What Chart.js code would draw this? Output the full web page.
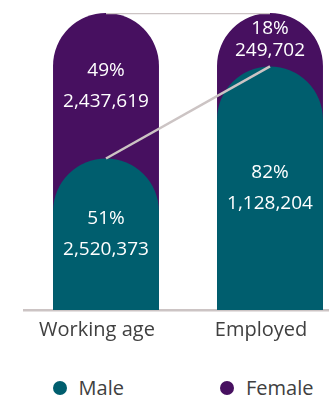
<!DOCTYPE html>
<html lang="en">
<head>
    <meta charset="UTF-8">
    <title>Working age vs employed</title>

    <script src="https://cdn.jsdelivr.net/npm/chart.js@4.4.0/dist/chart.umd.min.js"></script>

    <style>
        body {
            margin: 0;
            overflow: hidden;
            background: #ffffff;
            font-family: "Open Sans", sans-serif;
        }

        #wrap {
            position: relative;
            width: 366px;
            height: 356px;
        }

        #legend {
            position: absolute;
            top: 376px;
            left: 0;
            width: 366px;
            display: flex;
            justify-content: center;
            gap: 96px;
            font-size: 20px;
            line-height: 24px;
            color: #404040;
        }

        #legend span.item {
            display: flex;
            align-items: center;
        }

        #legend span.dot {
            display: inline-block;
            width: 14px;
            height: 14px;
            border-radius: 50%;
            margin-right: 12px;
        }
    </style>
</head>
<body>

<div id="wrap">
    <canvas id="myChart"></canvas>
</div>
<div id="legend"></div>


<script>

    var categories = ["Working age", "Employed"];

    var malePct = [51, 82];
    var femalePct = [49, 18];

    var maleCount = [2520373, 1128204];
    var femaleCount = [2437619, 249702];

    var teal = "rgb(0, 94, 110)";
    var purple = "rgb(71, 16, 96)";
    var lineGrey = "rgb(204, 196, 196)";

    // female bar sits behind the male one and runs up to the full total
    var femaleTop = malePct.map(function (m, i) {
        return m + femalePct[i];
    });

    var topRound = {topLeft: 999, topRight: 999, bottomLeft: 0, bottomRight: 0};


    // white percent + count text inside each coloured part
    var segmentLabels = {
        id: "segmentLabels",
        afterDatasetsDraw: function (chart) {
            var ctx = chart.ctx;
            var maleBars = chart.getDatasetMeta(0).data;
            var femaleBars = chart.getDatasetMeta(1).data;

            ctx.save();
            ctx.fillStyle = "#ffffff";
            ctx.font = "19px 'Open Sans'";
            ctx.textAlign = "center";
            ctx.textBaseline = "middle";

            function pair(x, top, bottom, pct, count) {
                var h = bottom - top;
                var mid = (top + bottom) / 2;
                var gap = Math.min(31, h * 0.4);
                ctx.fillText(pct + "%", x, mid - gap / 2);
                ctx.fillText(count.toLocaleString("en-US"), x, mid + gap / 2);
            }

            for (var i = 0; i < categories.length; i++) {
                var m = maleBars[i];
                var f = femaleBars[i];
                pair(m.x, m.y, m.base, malePct[i], maleCount[i]);
                pair(f.x, f.y, m.y, femalePct[i], femaleCount[i]);
            }
            ctx.restore();
        }
    };


    var ctx = document.getElementById("myChart");

    var chart = new Chart(ctx, {

        type: "bar",

        data: {
            labels: categories,
            datasets: [{
                label: "Male",
                data: malePct,
                backgroundColor: teal,
                borderRadius: topRound,
                borderSkipped: "start",
                grouped: false,
                barPercentage: 0.646,
                categoryPercentage: 1
            }, {
                label: "Female",
                data: femaleTop,
                backgroundColor: purple,
                borderRadius: topRound,
                borderSkipped: "start",
                grouped: false,
                barPercentage: 0.646,
                categoryPercentage: 1
            }, {
                type: "line",
                label: "total",
                data: femaleTop,
                borderColor: lineGrey,
                borderWidth: 2.5,
                pointRadius: 0,
                order: -1
            }, {
                type: "line",
                label: "male share",
                data: malePct,
                borderColor: lineGrey,
                borderWidth: 2.5,
                pointRadius: 0,
                order: -1
            }]
        },

        options: {
            responsive: true,
            maintainAspectRatio: false,
            animation: false,
            layout: {
                padding: {top: 13, left: 24, right: 14, bottom: 6}
            },
            plugins: {
                legend: {display: false},
                tooltip: {enabled: false}
            },
            scales: {
                x: {
                    grid: {display: false, drawTicks: false},
                    border: {display: true, color: lineGrey, width: 2.5},
                    ticks: {
                        color: "#404040",
                        padding: 8,
                        labelOffset: -9,
                        font: {family: "'Open Sans'", size: 20}
                    }
                },
                y: {
                    display: false,
                    min: 0,
                    max: 100
                }
            }
        },

        plugins: [segmentLabels]
    });


    // legend below the chart, built from the two bar series
    var legendBox = document.getElementById("legend");

    chart.data.datasets.slice(0, 2).forEach(function (ds) {
        var item = document.createElement("span");
        item.className = "item";
        var dot = document.createElement("span");
        dot.className = "dot";
        dot.style.background = ds.backgroundColor;
        item.appendChild(dot);
        item.appendChild(document.createTextNode(ds.label));
        legendBox.appendChild(item);
    });

</script>


</body>
</html>
